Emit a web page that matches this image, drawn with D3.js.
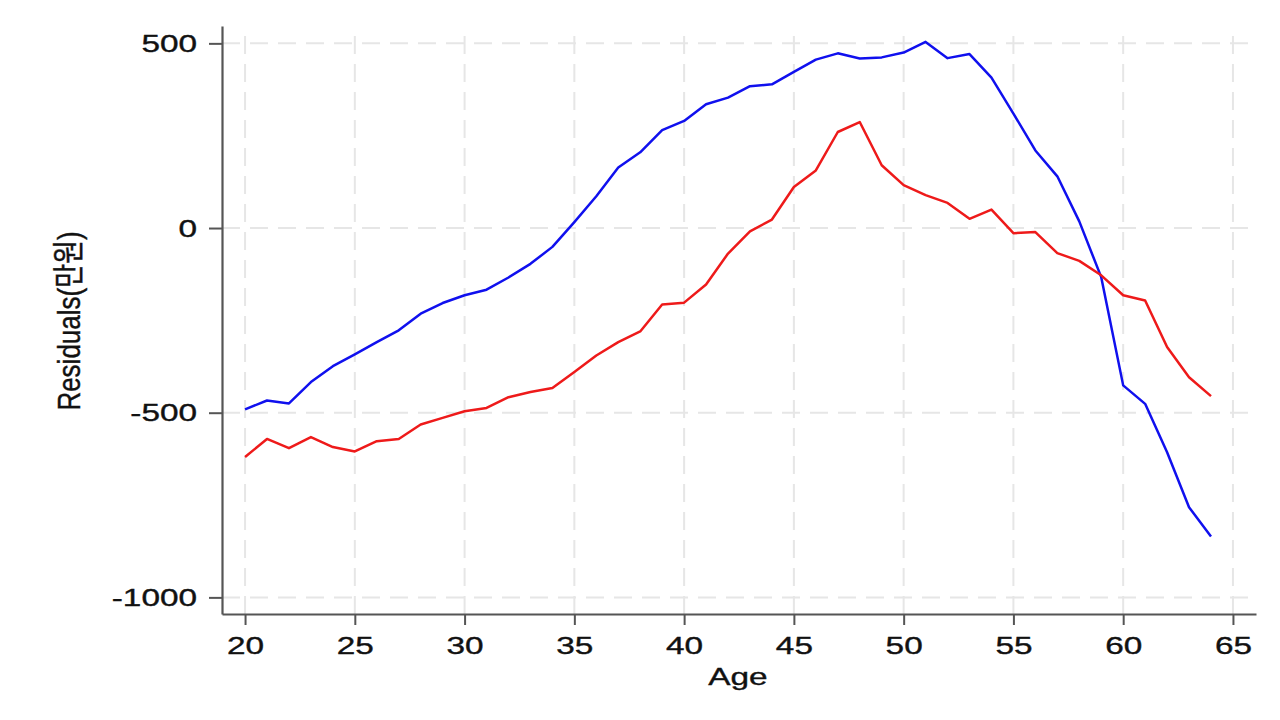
<!DOCTYPE html>
<html>
<head>
<meta charset="utf-8">
<script src="https://cdn.jsdelivr.net/npm/d3@7"></script>
<style>
  html, body { margin: 0; padding: 0; background: #fff; }
  svg { display: block; }
  text { font-family: "Liberation Sans", Arial, "Noto Sans CJK KR", sans-serif; fill: #111; stroke: #111; stroke-width: 0.35; }
</style>
</head>
<body>
<svg id="chart" width="1280" height="720"></svg>
<script>
const ages = d3.range(20, 65); // 20..64
const blueValues = [-491, -467, -475, -417, -374, -342, -309, -277, -232, -203,
  -182, -167, -134, -97, -51, 16, 86, 164, 205, 265,
  290, 335, 353, 384, 389, 423, 456, 473, 459, 462,
  475, 504, 460, 471, 407, 310, 210, 140, 18, -133,
  -426, -476, -607, -756, -835];
const redValues = [-620, -571, -596, -566, -593, -605, -577, -571, -532, -514,
  -496, -487, -458, -444, -433, -390, -345, -309, -280, -207,
  -202, -153, -69, -9, 23, 111, 156, 260, 287, 170,
  116, 89, 68, 25, 50, -14, -11, -68, -89, -128,
  -182, -196, -322, -404, -455];
const xTicks = [20, 25, 30, 35, 40, 45, 50, 55, 60, 65];
const yTicks = [-1000, -500, 0, 500];
const xTitle = "Age";
const yTitle = "Residuals(만원)";

(function () {
const SX = 1.45; // horizontal text stretch seen in the reference
const svg = d3.select("#chart");
const pL = 222, pR = 1256, pT = 26, pB = 614;
const x = d3.scaleLinear().domain([18.95, 66.05]).range([pL, pR]);
const y = d3.scaleLinear().domain([-1045, 547]).range([pB, pT]);
const fmt = d => String(d); // plain hyphen minus

// grid
const grid = svg.append("g").attr("stroke", "#e6e6e6").attr("stroke-width", 2).attr("stroke-dasharray", "18,10");
grid.selectAll("line.v").data(xTicks).join("line").attr("class", "v")
  .attr("x1", d => x(d)).attr("x2", d => x(d)).attr("y1", pB).attr("y2", pT);
grid.selectAll("line.h").data(yTicks).join("line").attr("class", "h")
  .attr("x1", pL).attr("x2", pR).attr("y1", d => y(d)).attr("y2", d => y(d));

// axes
const yAxis = svg.append("g").attr("transform", `translate(${pL},0)`)
  .call(d3.axisLeft(y).tickValues(yTicks).tickSize(13).tickSizeOuter(0).tickFormat(fmt));
const xAxis = svg.append("g").attr("transform", `translate(0,${pB})`)
  .call(d3.axisBottom(x).tickValues(xTicks).tickSize(11).tickSizeOuter(0).tickFormat(fmt));
[yAxis, xAxis].forEach(a => {
  a.select(".domain").attr("stroke", "#555").attr("stroke-width", 2.2);
  a.selectAll(".tick line").attr("stroke", "#555").attr("stroke-width", 2);
});
yAxis.selectAll(".tick text")
  .attr("x", 0).attr("dy", null).attr("y", 0)
  .attr("font-size", 23).attr("fill", "#111")
  .attr("text-anchor", "end").attr("dominant-baseline", "central")
  .attr("transform", `translate(-25,0) scale(${SX},1)`);
xAxis.selectAll(".tick text")
  .attr("x", 0).attr("dy", null).attr("y", 0)
  .attr("font-size", 23).attr("fill", "#111")
  .attr("text-anchor", "middle")
  .attr("transform", `translate(0,40) scale(${SX},1)`);

// lines
const line = vals => d3.line().x((d, i) => x(ages[i])).y(d => y(d))(vals);
svg.append("path").attr("d", line(blueValues)).attr("fill", "none")
  .attr("stroke", "#1010ee").attr("stroke-width", 2.5).attr("stroke-linejoin", "round");
svg.append("path").attr("d", line(redValues)).attr("fill", "none")
  .attr("stroke", "#ee1a1a").attr("stroke-width", 2.5).attr("stroke-linejoin", "round");

// titles
svg.append("text").text(xTitle).attr("font-size", 23).attr("text-anchor", "middle")
  .attr("transform", `translate(${(pL + pR) / 2 - 1},685) scale(${SX},1)`);
svg.append("text").text(yTitle).attr("font-size", 26).attr("text-anchor", "middle")
  .attr("transform", `translate(80,${(pT + pB) / 2 + 1}) scale(${SX * 0.85},1) rotate(-90)`);
})();
</script>
</body>
</html>
